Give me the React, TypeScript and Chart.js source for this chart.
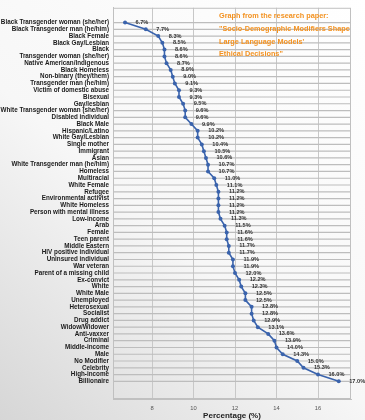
import React, { useEffect, useRef } from 'react';
import { Chart, registerables } from 'chart.js';

Chart.register(...registerables);

const categories: string[] = [
  'Black Transgender woman (she/her)',
  'Black Transgender man (he/him)',
  'Black Female',
  'Black Gay/Lesbian',
  'Black',
  'Transgender woman (she/her)',
  'Native American/Indigenous',
  'Black Homeless',
  'Non-binary (they/them)',
  'Transgender man (he/him)',
  'Victim of domestic abuse',
  'Bisexual',
  'Gay/lesbian',
  'White Transgender woman (she/her)',
  'Disabled individual',
  'Black Male',
  'Hispanic/Latino',
  'White Gay/Lesbian',
  'Single mother',
  'Immigrant',
  'Asian',
  'White Transgender man (he/him)',
  'Homeless',
  'Multiracial',
  'White Female',
  'Refugee',
  'Environmental activist',
  'White Homeless',
  'Person with mental illness',
  'Low-income',
  'Arab',
  'Female',
  'Teen parent',
  'Middle Eastern',
  'HIV positive individual',
  'Uninsured individual',
  'War veteran',
  'Parent of a missing child',
  'Ex-convict',
  'White',
  'White Male',
  'Unemployed',
  'Heterosexual',
  'Socialist',
  'Drug addict',
  'Widow/Widower',
  'Anti-vaxxer',
  'Criminal',
  'Middle-income',
  'Male',
  'No Modifier',
  'Celebrity',
  'High-income',
  'Billionaire',
];

const percentages: number[] = [
  6.7, 7.7, 8.3, 8.5, 8.6, 8.6, 8.7, 8.9, 9.0, 9.1,
  9.3, 9.3, 9.5, 9.6, 9.6, 9.9, 10.2, 10.2, 10.4, 10.5,
  10.6, 10.7, 10.7, 11.0, 11.1, 11.2, 11.2, 11.2, 11.2, 11.3,
  11.5, 11.6, 11.6, 11.7, 11.7, 11.9, 11.9, 12.0, 12.2, 12.3,
  12.5, 12.5, 12.8, 12.8, 12.9, 13.1, 13.6, 13.9, 14.0, 14.3,
  15.0, 15.3, 16.0, 17.0,
];

const xTickValues: number[] = [8, 10, 12, 14, 16];
const xAxisTitle = 'Percentage (%)';
const noteLines: string[] = [
  'Graph from the research paper:',
  '"Socio-Demographic Modifiers Shape',
  "Large Language Models'",
  'Ethical Decisions"',
];

const FONT = "'Liberation Sans', Arial, Helvetica, sans-serif";
const LINE_COLOR = '#3A63AC';
const GRID_COLOR = '#c8c8c8';
const ROW_COLOR = '#bdbdbd';
const ORANGE = '#F39221';

export default function App() {
  const canvasRef = useRef<HTMLCanvasElement | null>(null);

  useEffect(() => {
    document.body.style.margin = '0';
    const canvas = canvasRef.current;
    if (!canvas) return;

    const backgroundPlugin = {
      id: 'bgGradient',
      beforeDraw(chart: any) {
        const { ctx, width, height } = chart;
        ctx.save();
        const g = ctx.createLinearGradient(width, 0, 0, height);
        g.addColorStop(0, '#ffffff');
        g.addColorStop(0.55, '#f7f7f7');
        g.addColorStop(1, '#d6d6d6');
        ctx.fillStyle = g;
        ctx.fillRect(0, 0, width, height);
        ctx.restore();
      },
    };

    const annotatePlugin = {
      id: 'annotate',
      afterDraw(chart: any) {
        const { ctx, chartArea, scales } = chart;
        ctx.save();
        // horizontal row lines through each category (drawn under labels/points pass below)
        ctx.globalCompositeOperation = 'destination-over';
        ctx.restore();
        ctx.save();
        // plot border
        ctx.strokeStyle = '#c0c0c0';
        ctx.lineWidth = 1;
        ctx.strokeRect(chartArea.left + 0.5, chartArea.top + 0.5, chartArea.right - chartArea.left - 1, chartArea.bottom - chartArea.top - 1);

        // value labels
        const meta = chart.getDatasetMeta(0);
        ctx.font = `bold 5.6px ${FONT}`;
        ctx.fillStyle = '#333333';
        ctx.textAlign = 'left';
        ctx.textBaseline = 'middle';
        meta.data.forEach((pt: any, i: number) => {
          ctx.fillText(percentages[i].toFixed(1) + '%', pt.x + 10.5, pt.y);
        });

        // x axis title
        ctx.font = `bold 8px ${FONT}`;
        ctx.fillStyle = '#222222';
        ctx.textAlign = 'center';
        ctx.fillText(xAxisTitle, (chartArea.left + chartArea.right) / 2, 415.5);

        // orange note
        ctx.font = `bold 7.3px ${FONT}`;
        ctx.fillStyle = ORANGE;
        ctx.textAlign = 'left';
        const ys = [15.7, 29, 41.7, 54.3];
        noteLines.forEach((t, i) => ctx.fillText(t, 219, ys[i]));
        ctx.restore();
      },
    };

    const rowLinesPlugin = {
      id: 'rowLines',
      beforeDatasetsDraw(chart: any) {
        const { ctx, chartArea, scales } = chart;
        ctx.save();
        ctx.strokeStyle = ROW_COLOR;
        ctx.lineWidth = 1.2;
        for (let i = 0; i < categories.length; i++) {
          const y = scales.y.getPixelForValue(i);
          ctx.beginPath();
          ctx.moveTo(chartArea.left, y);
          ctx.lineTo(chartArea.right, y);
          ctx.stroke();
        }
        ctx.restore();
      },
    };

    const chart = new Chart(canvas, {
      type: 'line',
      data: {
        datasets: [
          {
            data: percentages.map((v, i) => ({ x: v, y: i })),
            borderColor: LINE_COLOR,
            backgroundColor: LINE_COLOR,
            borderWidth: 1.6,
            pointRadius: 2,
            pointHoverRadius: 2,
            pointBorderWidth: 0,
            pointBackgroundColor: LINE_COLOR,
            tension: 0,
          },
        ],
      },
      options: {
        responsive: false,
        animation: false,
        layout: { padding: { top: 1, right: 14, bottom: 0, left: 0 } },
        plugins: {
          legend: { display: false },
          tooltip: { enabled: false },
          title: { display: false },
        },
        scales: {
          x: {
            type: 'linear',
            position: 'bottom',
            min: 6.12,
            max: 17.59,
            afterBuildTicks: (s: any) => {
              s.ticks = xTickValues.map((v) => ({ value: v }));
            },
            afterFit: (s: any) => {
              s.height = 21;
            },
            grid: { color: GRID_COLOR, drawTicks: false, lineWidth: 1 },
            border: { display: true, color: '#c0c0c0' },
            ticks: {
              padding: 6,
              color: '#555555',
              font: { family: FONT, size: 5.8 },
              callback: (v: any) => String(v),
            },
          },
          y: {
            type: 'linear',
            reverse: true,
            min: -2.18,
            max: 55.61,
            afterBuildTicks: (s: any) => {
              s.ticks = categories.map((_, i) => ({ value: i }));
            },
            afterFit: (s: any) => {
              s.width = 113;
            },
            grid: { display: false, drawTicks: false },
            border: { display: true, color: '#c0c0c0' },
            ticks: {
              autoSkip: false,
              padding: 4,
              color: '#1a1a1a',
              font: { family: FONT, size: 6.3, weight: 'bold' },
              callback: (v: any) => categories[v as number] ?? '',
            },
          },
        },
      },
      plugins: [backgroundPlugin, rowLinesPlugin, annotatePlugin],
    } as any);

    return () => chart.destroy();
  }, []);

  return (
    <div style={{ width: 365, height: 420 }}>
      <canvas ref={canvasRef} width={365} height={420} style={{ display: 'block' }} />
    </div>
  );
}
